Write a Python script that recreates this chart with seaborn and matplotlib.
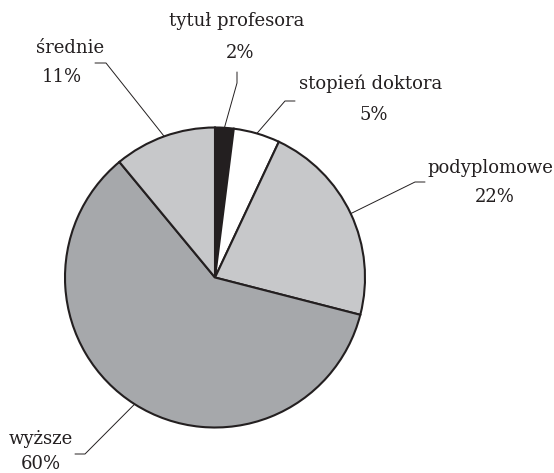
import matplotlib
matplotlib.use("Agg")
import matplotlib.pyplot as plt
import numpy as np
import seaborn as sns

# dane
kategorie = ["tytuł profesora", "stopień doktora", "podyplomowe", "wyższe", "średnie"]
udzialy = [2, 5, 22, 60, 11]
procenty = ["2%", "5%", "22%", "60%", "11%"]

kolory = ["#231f20", "#ffffff", "#c7c8ca", "#a6a8ab", "#c7c8ca"]

sns.set_theme(style="white")
plt.rcParams["font.family"] = ["DejaVu Serif"]

W, H = 554, 473
CX, CY, R = 215, 277.5, 150  # srodek i promien kola w pikselach


def px(x, y):
    return (x - CX) / R, (CY - y) / R


# polozenie linii odniesienia (zagiecie, koniec) i napisow (w pikselach)
zagiecia = [(237, 83), (285, 101), (415, 182), (85, 454), (106, 63)]
konce = [(237, 72), (295, 101), (425, 182), (75, 454), (95, 63)]
napisy_nazwa = [(236.5, 26), (371, 89), (490, 173), (41, 444), (70, 53)]
napisy_proc = [(240, 58), (374, 120), (495, 202), (41, 469), (62, 82)]

fig = plt.figure(figsize=(W / 100, H / 100), dpi=100)
ax = fig.add_axes([0, 0, 1, 1])
wedges, _ = ax.pie(udzialy, colors=kolory, startangle=90, counterclock=False,
                   wedgeprops=dict(edgecolor="#231f20", linewidth=1.5))
ax.set_xlim(-CX / R, (W - CX) / R)
ax.set_ylim(-(H - CY) / R, CY / R)
ax.set_aspect("equal")
ax.axis("off")

for i, w in enumerate(wedges):
    kat = np.deg2rad((w.theta1 + w.theta2) / 2)
    x0, y0 = w.r * np.cos(kat), w.r * np.sin(kat)
    x1, y1 = px(*zagiecia[i])
    x2, y2 = px(*konce[i])
    ax.plot([x0, x1, x2], [y0, y1, y2], color="#231f20", lw=0.7, zorder=0)
    tx, ty = px(*napisy_nazwa[i])
    ax.text(tx, ty, kategorie[i], ha="center", va="baseline", fontsize=13, color="#231f20")
    tx, ty = px(*napisy_proc[i])
    ax.text(tx, ty, procenty[i], ha="center", va="baseline", fontsize=13, color="#231f20")

fig.savefig("out.png", dpi=100, facecolor="white")
